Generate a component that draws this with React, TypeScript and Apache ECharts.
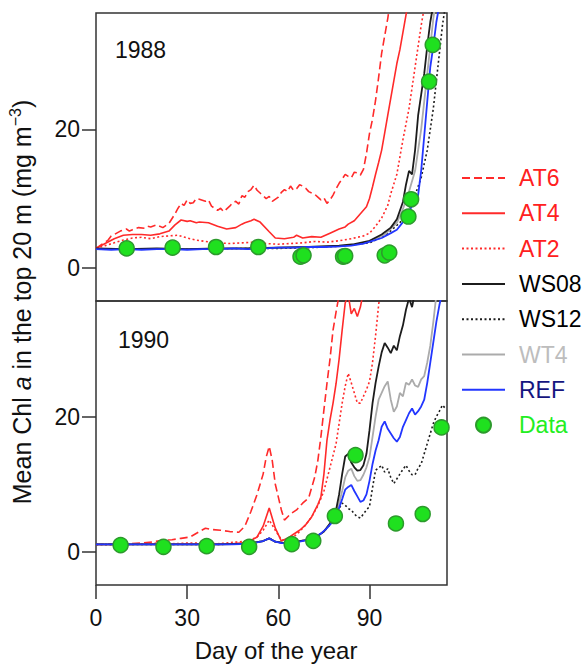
import React, { useEffect, useRef } from "react";
import * as echarts from "echarts";

// ---- tick labels / categories ----
const X_TICKS = [0, 30, 60, 90];
const Y_TICKS = [0, 20];
const YEARS = ["1988", "1990"];
const SERIES_NAMES = ["AT6", "AT4", "AT2", "WS08", "WS12", "WT4", "REF", "Data"];

// ---- 1988 (day, Chl a) ----
const AT6_1988 = [[0,2.8],[2,3.4],[4,4.0],[5,4.6],[6,4.8],[8,5.3],[10,5.6],[11,5.3],[12,5.5],[14,5.8],[16,5.7],[17,6.0],[18,5.9],[20,6.2],[22,5.8],[24,6.4],[26,7.8],[27,8.6],[28,9.3],[29,9.0],[30,9.8],[31,9.3],[32,9.4],[33,10.0],[34,9.9],[36,9.6],[37,9.8],[38,8.9],[40,8.3],[41,8.6],[42,8.1],[44,8.9],[45,9.4],[46,9.6],[47,9.2],[48,10.4],[49,10.2],[50,11.0],[51,11.3],[52,11.9],[53,11.2],[54,10.8],[56,10.0],[57,10.3],[58,9.6],[60,10.2],[61,10.9],[62,11.3],[63,11.0],[64,11.8],[65,11.2],[66,11.4],[67,12.0],[68,11.8],[69,11.5],[70,11.0],[72,10.6],[73,10.2],[74,9.8],[75,10.1],[76,9.3],[77,9.8],[78,10.5],[79,11.4],[80,12.2],[81,12.8],[82,13.5],[83,13.2],[84,13.0],[85,13.8],[86,13.7],[87,13.4],[88,14.2],[89,16.5],[90,19.4],[91,21.5],[92,24.2],[93,27.5],[94,31],[95,33.5],[96,36],[97,39]];
const AT4_1988 = [[0,2.8],[3,3.5],[6,4.2],[9,4.7],[12,4.8],[15,4.8],[18,4.7],[21,4.9],[24,5.3],[26,6.2],[28,6.9],[30,6.7],[31,6.8],[33,6.5],[34,6.6],[37,6.5],[40,6.0],[43,5.6],[46,5.8],[48,6.3],[49,6.5],[51,6.8],[52,7.0],[54,6.6],[57,5.2],[59,4.3],[62,4.2],[65,4.4],[66,4.7],[68,4.3],[71,4.5],[74,4.4],[77,5.0],[80,5.6],[82,5.9],[83,6.3],[85,6.8],[87,7.8],[89,8.8],[90,10],[91,11.7],[92,13.5],[93,15.2],[94,17],[95,19.5],[96,22],[97,24.5],[98,27],[99,29.5],[100,31.5],[101,34],[102,36.5],[103,39]];
const AT2_1988 = [[0,2.8],[3,3.2],[6,3.6],[9,4.0],[12,4.3],[15,4.4],[18,4.2],[21,4.5],[24,4.6],[27,4.7],[30,4.3],[33,4.0],[36,3.8],[40,3.6],[44,3.5],[48,3.6],[52,3.7],[56,3.5],[60,3.4],[64,3.5],[68,3.6],[72,3.8],[76,3.7],[80,3.9],[84,4.2],[88,4.6],[90,5.0],[92,6.0],[94,7.2],[96,9.0],[97,10.7],[99,13.5],[100,16],[101,18.5],[103,23],[104,26],[105,29],[106,32],[107,35],[108,37.5],[109,40]];
const WS08_1988 = [[0,2.8],[10,2.7],[20,2.8],[30,2.7],[40,2.8],[50,2.8],[60,2.9],[70,3.0],[80,3.2],[85,3.4],[90,3.9],[94,4.8],[97,5.8],[99,7],[101,9.5],[102,12],[103,14],[104,13.5],[105,17],[106,22],[107,25],[108,28],[109,32],[110,35.5],[111,38]];
const WS12_1988 = [[0,2.7],[10,2.7],[20,2.7],[30,2.7],[40,2.7],[50,2.8],[60,2.8],[70,2.9],[80,3.1],[90,3.6],[95,4.6],[100,6.5],[103,8.5],[105,10.5],[107,13],[108,15],[109,17],[110,20],[111,23],[112,27],[113,31],[114,35],[115,38]];
const WT4_1988 = [[0,2.7],[10,2.7],[20,2.7],[30,2.7],[40,2.7],[50,2.8],[60,2.9],[70,3.0],[80,3.1],[85,3.3],[90,3.8],[95,4.8],[99,6.5],[101,8.5],[103,11],[105,14],[107,20],[109,28],[111,36],[112,39]];
const REF_1988 = [[0,2.7],[5,2.6],[10,2.7],[15,2.6],[20,2.7],[25,2.7],[30,2.6],[35,2.7],[40,2.7],[45,2.8],[50,2.7],[55,2.8],[60,2.9],[65,2.9],[70,3.0],[75,3.0],[80,3.1],[84,3.2],[88,3.5],[91,3.9],[94,4.3],[97,5.0],[99,5.5],[101,6.6],[103,8.2],[105,9.6],[106,10.5],[107,14],[108,19],[109,24],[110,29],[111,32],[112,35.5],[113,38],[114,41]];
const DATA_1988 = [[10.1,2.8],[25.2,2.9],[39.5,3.0],[53.4,3.0],[67.3,1.6],[68.3,1.8],[81.3,1.6],[82,1.7],[95,1.8],[96.5,2.2],[102.8,7.4],[103.7,9.9],[109.6,26.9],[110.8,32.2]];

// ---- 1990 (day, Chl a) ----
const AT6_1990 = [[0,1.1],[5,1.2],[10,1.2],[15,1.3],[19,1.5],[22,1.7],[25,1.8],[28,2.0],[31,2.2],[34,3.0],[36,3.5],[38,3.3],[41,3.2],[44,3.0],[47,2.9],[49,3.8],[51,6.0],[53,8.5],[55,11.5],[56,14],[57,15.6],[58,13.5],[59,10],[60,8.1],[61,6.2],[62,4.7],[64,5.6],[66,6.2],[68,7.2],[70,8.0],[72,11.1],[73,13.5],[74,17],[75,21],[76,24.9],[77,28.5],[78,32.8],[79,35.5],[80,38]];
const AT4_1990 = [[0,1.1],[10,1.1],[20,1.2],[30,1.2],[40,1.2],[45,1.2],[50,1.4],[53,2.2],[55,3.8],[57,6.5],[59,3.5],[61,1.6],[63,2.0],[65,2.6],[67,3.2],[69,4.0],[71,5.2],[73,7.0],[74,8.1],[75,11.5],[76,16.5],[77,19.5],[78,22],[79,24.9],[80,28.5],[81,32.8],[82,36.8],[83,38],[84,35.2],[85,36],[86,34.8],[87,36.2],[88,38.5]];
const AT2_1990 = [[0,1.1],[5,1.1],[10,1.2],[15,1.2],[20,1.3],[25,1.2],[30,1.3],[35,1.3],[40,1.2],[45,1.4],[50,1.6],[53,2.2],[55,3.2],[57,4.7],[59,3.2],[61,1.8],[63,1.7],[65,2.2],[67,3.0],[69,4.0],[71,5.2],[73,6.8],[75,9],[77,12.5],[79,16],[80,19],[81,22],[82,24.5],[83,26.4],[84,25],[85,23.5],[86,22],[87,22],[88,23],[89,24],[90,25.2],[91,28],[92,32],[93,36.5],[94,40]];
const WS08_1990 = [[0,1.1],[10,1.1],[20,1.1],[30,1.1],[40,1.1],[50,1.2],[55,1.6],[57,2.0],[59,1.5],[62,1.3],[66,1.5],[70,1.8],[73,2.4],[75,3.0],[77,4.2],[79,6.2],[80,8.5],[81,11.5],[82,14.1],[83,14.5],[84,13.2],[85,12.5],[86,12.0],[87,12.1],[88,12.8],[89,14.5],[90,18],[91,22],[92,25],[93,27.4],[94,29.5],[95,30.9],[96,30.2],[97,29.4],[98,30.5],[99,29.8],[100,31.9],[101,33.5],[102,35.8],[103,37.5],[104,36.2],[105,38.5]];
const WS12_1990 = [[0,1.1],[10,1.1],[20,1.1],[30,1.1],[40,1.1],[50,1.2],[55,1.6],[57,2.0],[59,1.5],[62,1.3],[66,1.5],[70,1.8],[73,2.4],[75,3.0],[77,4.0],[79,5.2],[80,6.4],[81,7.2],[82,6.9],[83,6.4],[84,6.2],[85,5.6],[86,5.2],[87,5.0],[88,5.6],[89,6.2],[90,6.7],[91,9.5],[92,12.1],[93,12.4],[94,12.8],[95,11.8],[96,12.3],[97,11.0],[98,10.1],[99,10.8],[100,11.5],[101,12.2],[102,12.8],[103,12.0],[104,11.4],[105,11.4],[106,12.4],[107,13.0],[108,14.5],[109,16],[110,17.5],[111,19],[112,20],[113,20.8],[114,21.7],[115,21.2]];
const WT4_1990 = [[0,1.1],[10,1.1],[20,1.1],[30,1.1],[40,1.1],[50,1.2],[55,1.6],[57,2.0],[59,1.5],[62,1.3],[66,1.5],[70,1.8],[73,2.4],[75,3.0],[77,4.2],[79,5.6],[80,7.2],[81,9],[82,11],[83,12],[84,12.3],[85,11.2],[86,10.5],[87,10.6],[88,11.4],[89,12.5],[90,14],[91,17],[92,20],[93,22.5],[94,23.5],[95,24.5],[96,25.2],[97,22.5],[98,20.7],[99,21.5],[100,23.5],[101,23],[102,25],[103,24.7],[104,25.5],[105,24.6],[106,24.4],[107,25.5],[108,26],[109,28],[110,30.5],[111,34],[112,38]];
const REF_1990 = [[0,1.1],[5,1.1],[10,1.1],[15,1.1],[20,1.1],[25,1.1],[30,1.1],[35,1.1],[40,1.1],[45,1.1],[50,1.2],[53,1.4],[55,1.6],[57,2.0],[59,1.5],[61,1.3],[64,1.3],[67,1.5],[70,1.8],[72,2.2],[74,2.7],[76,3.5],[78,4.5],[79,5.2],[80,6.5],[81,7.8],[82,9.2],[83,9.6],[84,9.9],[85,9.0],[86,8.2],[87,7.4],[88,7.6],[89,8.5],[90,10.5],[91,13],[92,15],[93,16.5],[94,18.5],[95,19.3],[96,18.2],[97,17.5],[98,16.8],[99,16.3],[100,17],[101,18.5],[102,19.5],[103,20.5],[104,21.2],[105,20.3],[106,20.8],[107,21.5],[108,22.5],[109,25],[110,28],[111,31],[112,34],[113,36.5],[114,38.5]];
const DATA_1990 = [[8.1,1.0],[22.2,0.75],[36.4,0.84],[50.4,0.75],[64.4,1.14],[71.5,1.63],[78.6,5.3],[85.4,14.3],[98.7,4.2],[107.5,5.6],[113.7,18.4]];

const FONT = "'Liberation Sans', Arial, Helvetica, sans-serif";
const RED = "#ff2a2a";
const BLACK = "#1c1c1c";
const GRAY = "#ababab";
const BLUE = "#2236ff";
const GREEN = "#1fe01f";

const STYLE: Record<string, { color: string; type: any; width: number; text: string }> = {
  AT6: { color: RED, type: [8, 4], width: 1.6, text: "#ff2020" },
  AT4: { color: RED, type: "solid", width: 1.6, text: "#ff2020" },
  AT2: { color: RED, type: [2, 2.5], width: 1.6, text: "#ff2020" },
  WS08: { color: BLACK, type: "solid", width: 1.8, text: "#000000" },
  WS12: { color: BLACK, type: [2, 2.5], width: 1.6, text: "#000000" },
  WT4: { color: GRAY, type: "solid", width: 1.8, text: "#bdbdbd" },
  REF: { color: BLUE, type: "solid", width: 1.8, text: "#151580" },
};

const LINES_BY_YEAR: Record<string, Record<string, number[][]>> = {
  "1988": { AT6: AT6_1988, AT4: AT4_1988, AT2: AT2_1988, WS12: WS12_1988, WT4: WT4_1988, WS08: WS08_1988, REF: REF_1988 },
  "1990": { AT6: AT6_1990, AT4: AT4_1990, AT2: AT2_1990, WS12: WS12_1990, WT4: WT4_1990, WS08: WS08_1990, REF: REF_1990 },
};
const DATA_BY_YEAR: Record<string, number[][]> = { "1988": DATA_1988, "1990": DATA_1990 };
const DRAW_ORDER = ["AT6", "AT4", "AT2", "WS12", "WT4", "WS08", "REF"];

export default function App() {
  const ref = useRef<HTMLDivElement>(null);
  useEffect(() => {
    if (!ref.current) return;
    const chart = echarts.init(ref.current, null, { renderer: "svg" });

    const series: any[] = [];
    YEARS.forEach((yr, gi) => {
      DRAW_ORDER.forEach((name) => {
        const s = STYLE[name];
        series.push({
          name,
          type: "line",
          xAxisIndex: gi,
          yAxisIndex: gi,
          data: LINES_BY_YEAR[yr][name],
          symbol: "none",
          clip: true,
          color: s.color,
          lineStyle: { color: s.color, width: s.width, type: s.type },
          z: 2,
        });
      });
      series.push({
        name: "Data",
        type: "scatter",
        xAxisIndex: gi,
        yAxisIndex: gi,
        data: DATA_BY_YEAR[yr],
        symbol: "circle",
        symbolSize: 15,
        itemStyle: { color: GREEN, borderColor: "#2c9a2c", borderWidth: 1.5, opacity: 1 },
        z: 5,
      });
    });

    const xAxisBase = (gi: number) => ({
      type: "value",
      gridIndex: gi,
      min: 0,
      max: 115.5,
      splitLine: { show: false },
      axisLine: { show: false, onZero: false },
      axisTick: {
        show: gi === 1,
        length: 14,
        customValues: X_TICKS,
        lineStyle: { color: "#333", width: 1.5 },
      },
      axisLabel: {
        show: gi === 1,
        customValues: X_TICKS,
        fontSize: 23,
        fontFamily: FONT,
        color: "#111",
        margin: 21,
      },
      name: gi === 1 ? "Day of the year" : "",
      nameLocation: "middle",
      nameGap: 53,
      nameTextStyle: { fontSize: 24, fontFamily: FONT, color: "#111", padding: [0, 0, 0, 9] },
    });
    const yAxisBase = (gi: number, min: number, max: number) => ({
      type: "value",
      gridIndex: gi,
      min,
      max,
      splitLine: { show: false },
      axisLine: { show: false, onZero: false },
      axisTick: {
        show: true,
        length: 14,
        customValues: Y_TICKS,
        lineStyle: { color: "#333", width: 1.5 },
      },
      axisLabel: {
        customValues: Y_TICKS,
        fontSize: 23,
        fontFamily: FONT,
        color: "#111",
        margin: 16,
      },
    });

    const hiddenSymbol = { color: "rgba(0,0,0,0)", borderWidth: 0, opacity: 0 };

    chart.setOption({
      animation: false,
      backgroundColor: "#ffffff",
      grid: [
        { left: 96, top: 13, width: 351, height: 288, show: true, borderColor: "#333", borderWidth: 1.5, backgroundColor: "transparent" },
        { left: 96, top: 301, width: 351, height: 284, show: true, borderColor: "#333", borderWidth: 1.5, backgroundColor: "transparent" },
      ],
      xAxis: [xAxisBase(0), xAxisBase(1)],
      yAxis: [yAxisBase(0, -4.8, 36.8), yAxisBase(1, -4.9, 37.1)],
      legend: {
        orient: "vertical",
        left: 456,
        top: 161,
        itemWidth: 43,
        itemHeight: 15,
        itemGap: 11.3,
        selectedMode: false,
        textStyle: { fontSize: 23, fontFamily: FONT, lineHeight: 24, padding: [0, 0, 0, 9] },
        data: SERIES_NAMES.map((n) =>
          n === "Data"
            ? { name: n, textStyle: { color: "#22ee22" } }
            : { name: n, textStyle: { color: STYLE[n].text }, itemStyle: hiddenSymbol }
        ),
      },
      graphic: [
        {
          type: "text",
          left: 115,
          top: 38,
          style: { text: YEARS[0], fontSize: 23, fontFamily: FONT, fill: "#111" },
        },
        {
          type: "text",
          left: 118,
          top: 328,
          style: { text: YEARS[1], fontSize: 23, fontFamily: FONT, fill: "#111" },
        },
        {
          type: "text",
          x: 22,
          y: 302,
          rotation: Math.PI / 2,
          style: {
            text: "Mean Chl {i|a} in the top 20 m (mg m{sup|−3})",
            fontSize: 25,
            fontFamily: FONT,
            fill: "#111",
            align: "center",
            verticalAlign: "middle",
            lineHeight: 30,
            rich: {
              i: { fontSize: 25, fontFamily: FONT, fontStyle: "italic", fill: "#111", lineHeight: 30 },
              sup: { fontSize: 16, fontFamily: FONT, fill: "#111", verticalAlign: "top", lineHeight: 17 },
            },
          },
        },
      ],
      series,
    });
    return () => chart.dispose();
  }, []);
  return (
    <div
      ref={ref}
      style={{ position: "absolute", left: 0, top: 0, width: 585, height: 664 }}
    />
  );
}
